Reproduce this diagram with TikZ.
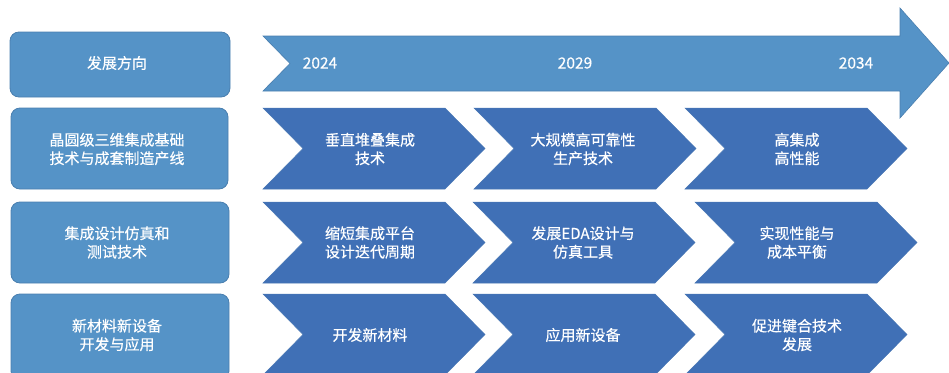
\documentclass[tikz,border=0pt]{standalone}
\usepackage{fontspec}
\setmainfont{Noto Sans CJK SC}
\newfontfamily\lblfont{Noto Sans CJK SC}[BoldFont={*},BoldFeatures={FakeBold=0.35}]
\begin{document}
\begin{tikzpicture}[x=1pt,y=-1pt,
  lightbox/.style={fill=lightblue,draw=lightedge,line width=0.8pt,rounded corners=9pt},
  bigarrow/.style={fill=lightblue,draw=lightedge,line width=0.6pt},
  chev/.style={fill=darkblue,draw=darkedge,line width=0.5pt},
  lbl/.style={text=white,font=\lblfont\bfseries\fontsize{15}{18.5}\selectfont,align=center,inner sep=0pt},
  yr/.style={text=white,font=\lblfont\bfseries\fontsize{15.5}{18}\selectfont,inner sep=0pt}]
\definecolor{lightblue}{HTML}{5593C7}
\definecolor{lightedge}{HTML}{4A7FAF}
\definecolor{darkblue}{HTML}{4070B6}
\definecolor{darkedge}{HTML}{4A78B4}
\useasboundingbox (0,0) rectangle (949,372);
\clip (0,0) rectangle (949,372);
% left boxes
\draw[lightbox] (10,32) rectangle (230,97);
\draw[lightbox] (11,108) rectangle (228,189);
\draw[lightbox] (11,202) rectangle (229,283);
\draw[lightbox] (11,294) rectangle (229,380);
\node[lbl] (b1) at (117,63) {发展方向};
\node[lbl] (b2) at (117,149) {晶圆级三维集成基础\\技术与成套制造产线};
\node[lbl] (b3) at (117,242.5) {集成设计仿真和\\测试技术};
\node[lbl] (b4) at (117,335) {新材料新设备\\开发与应用};
% big arrow
\draw[bigarrow] (263,36) -- (900,36) -- (900,8) -- (949,63) -- (900,118) -- (900,91) -- (263,91) -- (290,63.5) -- cycle;
\node[yr] (y1) at (320,63) {2024};
\node[yr] (y2) at (575,63) {2029};
\node[yr] (y3) at (856,63) {2034};
% chevrons
\foreach \lx/\ty/\by in {263/108/189, 474/108/189, 685/108/189,
                         263/202/283, 473/202/283, 695/202/283,
                         263/294/375, 473/294/375, 685/294/375}{
  \draw[chev] (\lx,\ty) -- ({\lx+182},\ty) -- ({\lx+222},{(\ty+\by)/2}) -- ({\lx+182},\by) -- (\lx,\by) -- ({\lx+40},{(\ty+\by)/2}) -- cycle;
}
\node[lbl] (c11) at (370,149) {垂直堆叠集成\\技术};
\node[lbl] (c12) at (583,149) {大规模高可靠性\\生产技术};
\node[lbl] (c13) at (797,149) {高集成\\高性能};
\node[lbl] (c21) at (370,242.5) {缩短集成平台\\设计迭代周期};
\node[lbl] (c22) at (583,242.5) {发展EDA设计与\\仿真工具};
\node[lbl] (c23) at (797,242.5) {实现性能与\\成本平衡};
\node[lbl] (c31) at (370,335) {开发新材料};
\node[lbl] (c32) at (583,335) {应用新设备};
\node[lbl] (c33) at (797,335) {促进键合技术\\发展};
\end{tikzpicture}
\end{document}
